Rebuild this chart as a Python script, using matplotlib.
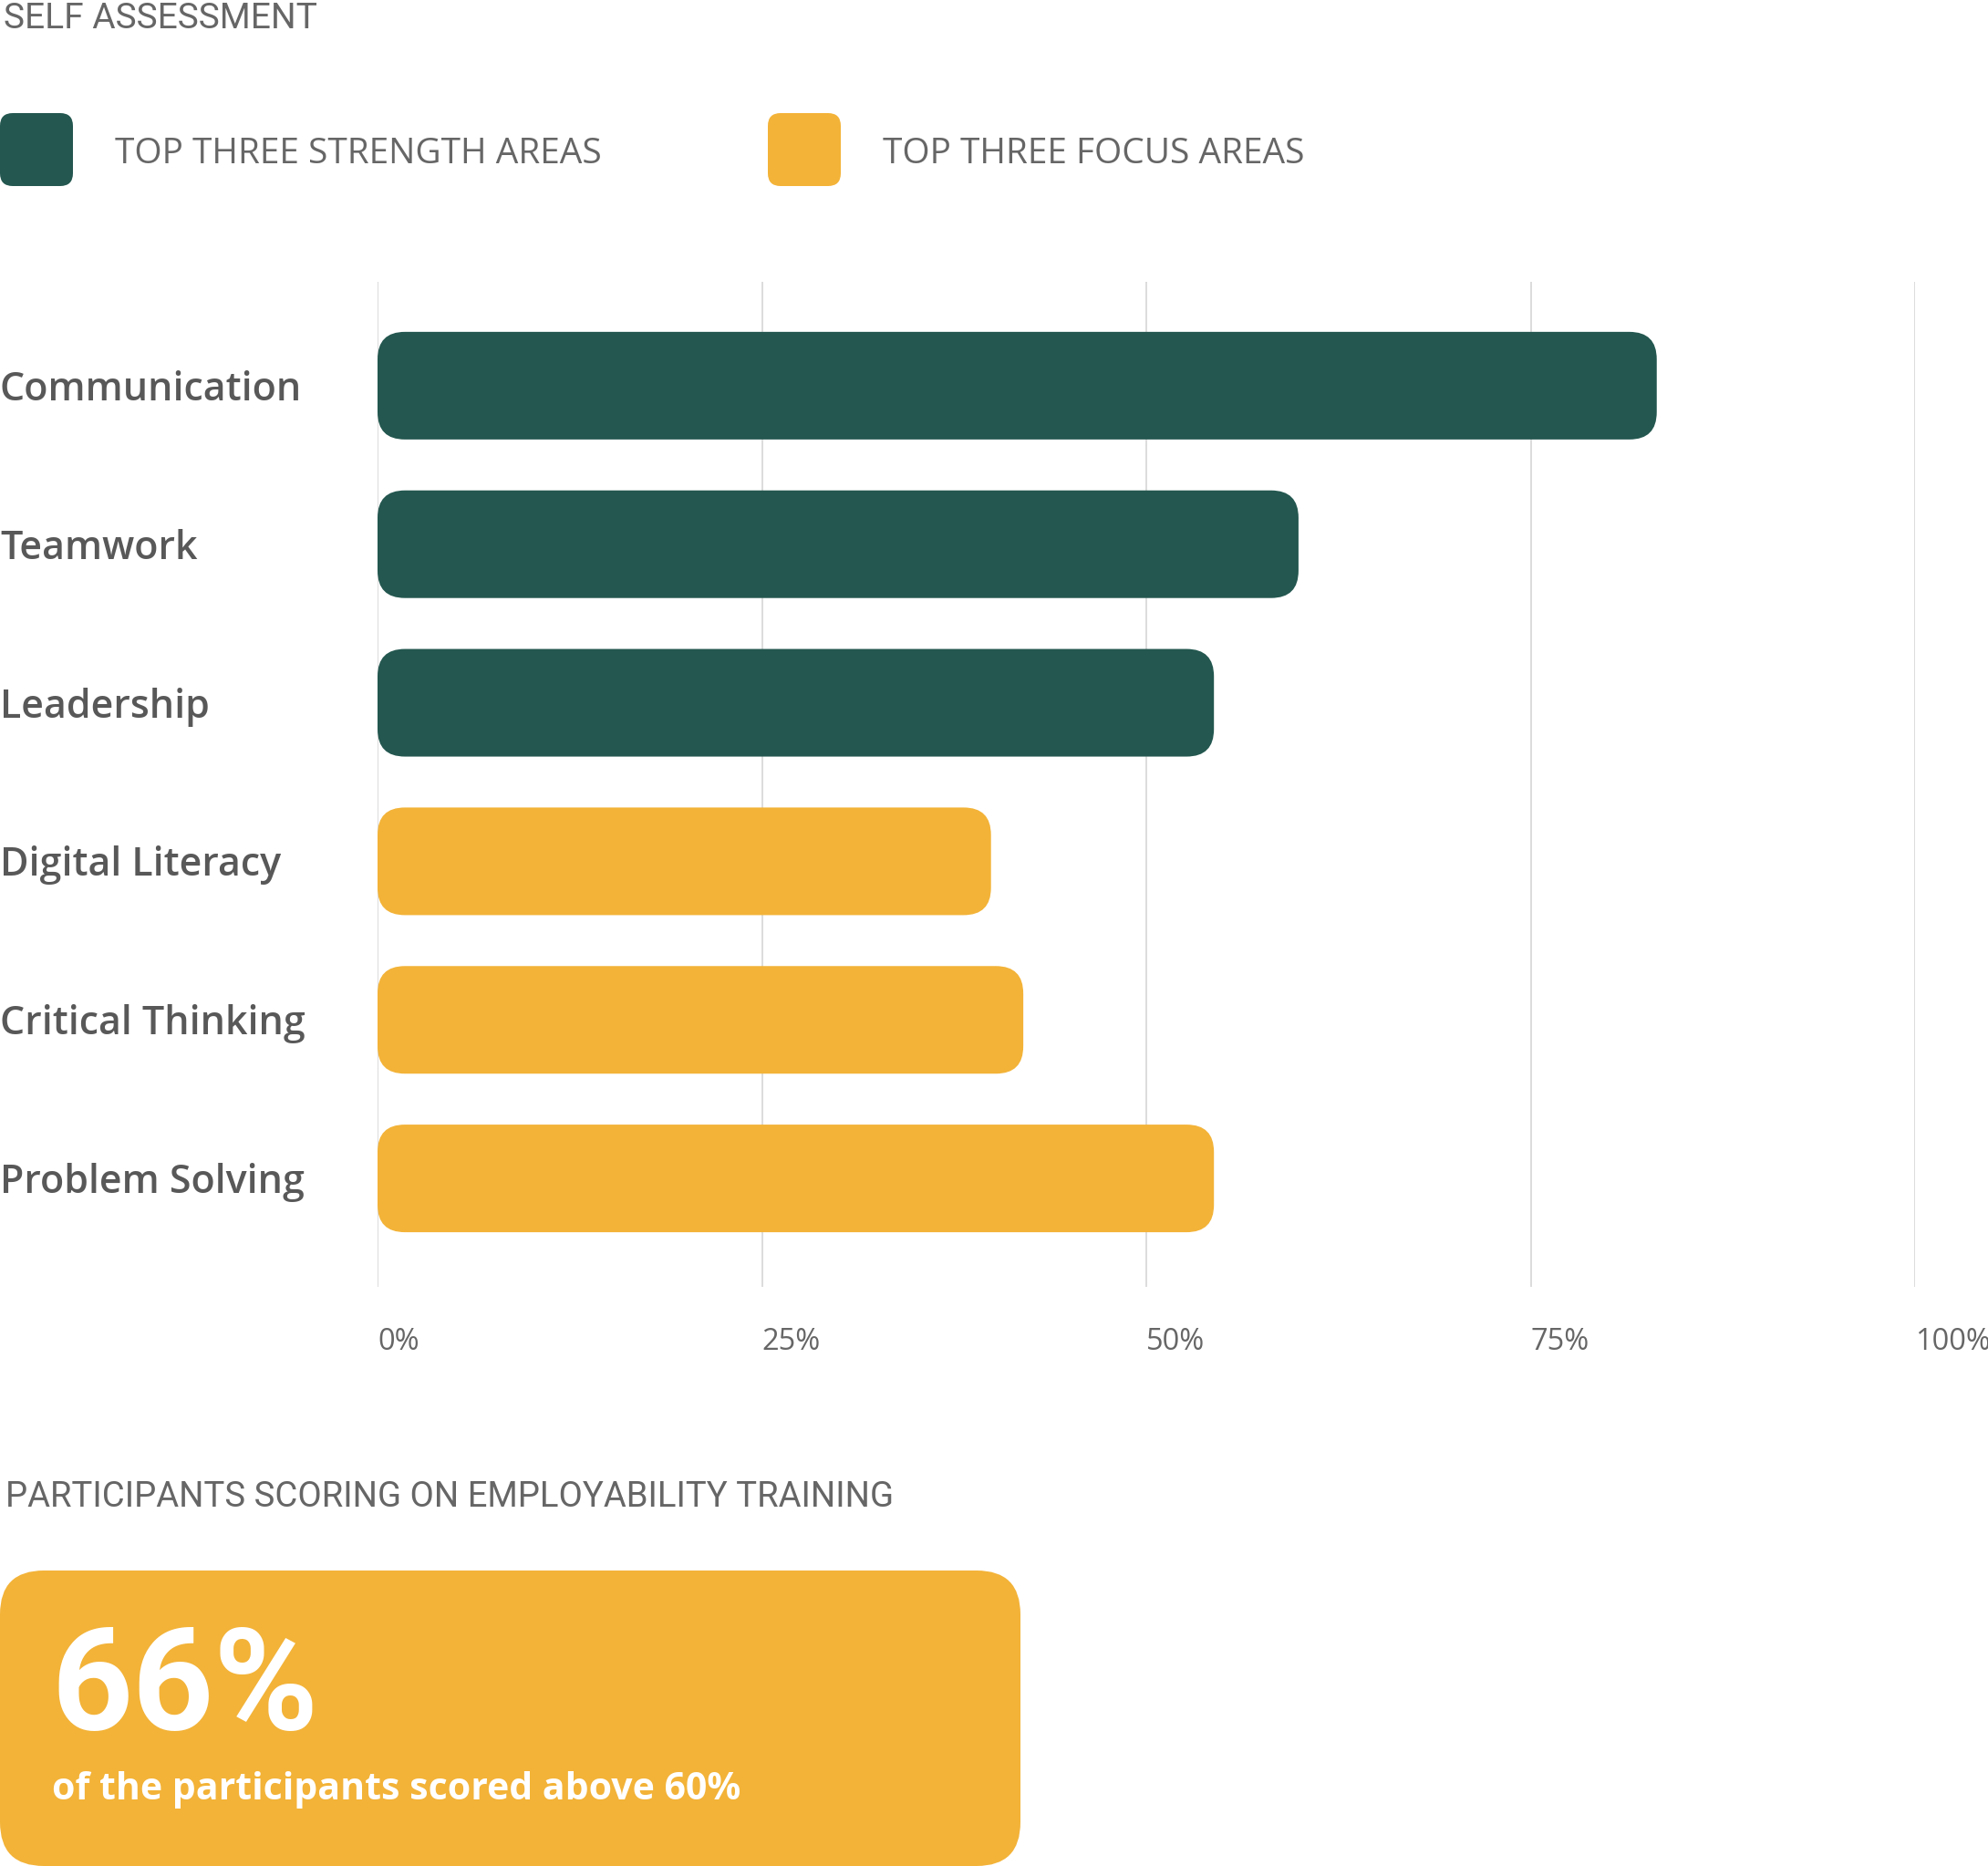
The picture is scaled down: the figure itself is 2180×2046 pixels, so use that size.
import matplotlib
matplotlib.use("Agg")
import matplotlib.pyplot as plt
from matplotlib.patches import FancyBboxPatch
from matplotlib import transforms

categories = ["Communication", "Teamwork", "Leadership",
              "Digital Literacy", "Critical Thinking", "Problem Solving"]
values = [83.2, 59.9, 54.4, 39.9, 42.0, 54.4]
groups = ["strength", "strength", "strength", "focus", "focus", "focus"]
ticks = [0, 25, 50, 75, 100]
tick_labels = ["0%", "25%", "50%", "75%", "100%"]
legend_labels = ["TOP THREE STRENGTH AREAS", "TOP THREE FOCUS AREAS"]
headline_value = "66%"
headline_text = "of the participants scored above 60%"

GREEN = "#23574f"
YELLOW = "#f3b338"
colors = {"strength": GREEN, "focus": YELLOW}
GRAY = "#666666"
LABEL = "#585858"

W, H = 2180, 2046
DPI = 100
body_font = ["Open Sans", "DejaVu Sans"]
narrow_font = ["Roboto", "DejaVu Sans"]

fig = plt.figure(figsize=(W / DPI, H / DPI), dpi=DPI)

# background axes in pixel coordinates, for header, legend and the card
bg = fig.add_axes([0, 0, 1, 1])
bg.set_xlim(0, W)
bg.set_ylim(H, 0)
bg.axis("off")

bg.text(4, 31, "SELF ASSESSMENT", fontsize=28, color=GRAY,
        family=narrow_font, va="baseline", ha="left")

leg_x = [0, 842]
for x0, lab, key in zip(leg_x, legend_labels, ["strength", "focus"]):
    bg.add_patch(FancyBboxPatch((x0, 124), 80, 80,
                                boxstyle="round,pad=0,rounding_size=14",
                                fc=colors[key], ec="none"))
    bg.text(x0 + 126, 179, lab, fontsize=28, color=GRAY, family=body_font,
            fontweight="normal", va="baseline", ha="left")

# bar chart
ax_l, ax_r, ax_t, ax_b = 414, 2100, 309, 1411
ax = fig.add_axes([ax_l / W, 1 - ax_b / H, (ax_r - ax_l) / W, (ax_b - ax_t) / H])
ax.set_xlim(0, 100)
ax.set_ylim(len(categories) - 1 + 0.684, -0.655)
ax.axis("off")

for t in ticks:
    ax.axvline(t, color="#dcdcdc", lw=1.4, zorder=0)

# rounded bars: correct the corner radius for the axes aspect
xpp = 100 / (ax_r - ax_l)
ypp = (len(categories) - 1 + 0.684 + 0.655) / (ax_b - ax_t)
bar_h = 118 * ypp
radius = 30 * xpp
for i, (v, g) in enumerate(zip(values, groups)):
    ax.add_patch(FancyBboxPatch((0, i - bar_h / 2), v, bar_h,
                                boxstyle="round,pad=0,rounding_size=%f" % radius,
                                mutation_aspect=ypp / xpp,
                                fc=colors[g], ec="none", zorder=2))

lab_tr = transforms.offset_copy(ax.get_yaxis_transform(), fig=fig,
                                y=-16, units="dots")
for i, c in enumerate(categories):
    ax.text(-ax_l / (ax_r - ax_l), i, c, transform=lab_tr, fontsize=31,
            fontweight="semibold", color=LABEL, family=body_font,
            ha="left", va="baseline")

for t, lab in zip(ticks, tick_labels):
    ax.text(t, -(1480 - ax_b) / (ax_b - ax_t), lab,
            transform=ax.get_xaxis_transform(), fontsize=23.5, color=GRAY,
            family=body_font, fontweight="normal", ha="left", va="baseline")

# bottom card
bg.text(6, 1652, "PARTICIPANTS SCORING ON EMPLOYABILITY TRAINING", fontsize=27.5,
        color=GRAY, family=narrow_font, va="baseline", ha="left")
bg.add_patch(FancyBboxPatch((0, 1722), 1119, 324,
                            boxstyle="round,pad=0,rounding_size=48",
                            fc=YELLOW, ec="none"))
bg.text(56, 1896, headline_value, fontsize=112, color="white",
        family=narrow_font, fontweight="bold", va="baseline", ha="left")
bg.text(57, 1973, headline_text, fontsize=29.5, color="white",
        family=body_font, fontweight="bold", va="baseline", ha="left")

fig.savefig("out.png", dpi=DPI, facecolor="white")
